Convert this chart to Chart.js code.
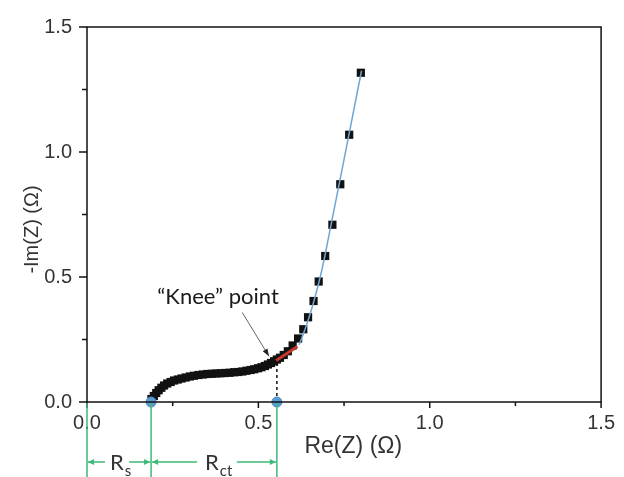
<!DOCTYPE html>
<html>
<head>
<meta charset="utf-8">
<script src="https://cdn.jsdelivr.net/npm/chart.js@4"></script>
<style>
  html, body { margin: 0; padding: 0; background: #ffffff; }
  #wrap { width: 624px; height: 477px; }
</style>
</head>
<body>
<div id="wrap"><canvas id="c" width="624" height="477"></canvas></div>
<script>
// ---- data ----
const zReal = [0.188,0.195,0.202,0.209,0.217,0.225,0.234,0.244,0.254,0.265,0.276,0.288,0.300,0.312,0.325,0.338,0.351,0.364,0.377,0.390,0.403,0.416,0.429,0.441,0.453,0.465,0.477,0.488,0.499,0.509,0.519,0.528,0.537,0.546,0.554,0.563,0.574,0.586,0.600,0.616,0.631,0.645,0.661,0.676,0.695,0.716,0.739,0.765,0.799];
const zImag = [0.012,0.024,0.036,0.047,0.057,0.066,0.074,0.080,0.086,0.090,0.094,0.098,0.102,0.105,0.108,0.110,0.112,0.113,0.114,0.115,0.116,0.117,0.119,0.120,0.122,0.125,0.128,0.131,0.135,0.139,0.144,0.150,0.156,0.163,0.170,0.177,0.188,0.203,0.226,0.254,0.291,0.339,0.404,0.482,0.584,0.709,0.871,1.069,1.317];
const fitReal = [0.619,0.636,0.655,0.676,0.694,0.801];
const fitImag = [0.229,0.290,0.370,0.475,0.584,1.325];
const kneeReal = [0.552,0.614];
const kneeImag = [0.166,0.222];
const markerReal = [0.187,0.554];     // Rs end, Rs+Rct
const markerImag = [0,0];
const kneeArrowReal = [0.453,0.531];
const kneeArrowImag = [0.358,0.183];
const kneeLabelPos = [0.205,0.391];
const tickValues = [0,0.25,0.5,0.75,1.0,1.25,1.5];
const majorTicks = [0,0.5,1.0,1.5];
const xTitle = 'Re(Z) (Ω)';
const yTitle = '-Im(Z) (Ω)';
const kneeText = '\u201CKnee\u201D point';

const pts = (xs, ys) => xs.map((x, i) => ({x: x, y: ys[i]}));

const GREEN = '#3dba78';

const decor = {
  id: 'decor',
  afterDraw(chart) {
    const ctx = chart.ctx;
    const a = chart.chartArea;
    const xs = chart.scales.x, ys = chart.scales.y;
    ctx.save();
    // frame
    ctx.strokeStyle = '#111';
    ctx.lineWidth = 1.5;
    ctx.strokeRect(a.left, a.top, a.right - a.left, a.bottom - a.top);
    // ticks (outward)
    tickValues.forEach(v => {
      const major = majorTicks.includes(v);
      const px = xs.getPixelForValue(v);
      ctx.beginPath();
      ctx.moveTo(px, a.bottom);
      ctx.lineTo(px, a.bottom + (major ? 6 : 4));
      ctx.stroke();
      const py = ys.getPixelForValue(v);
      ctx.beginPath();
      ctx.moveTo(a.left, py);
      ctx.lineTo(a.left - (major ? 8 : 5), py);
      ctx.stroke();
    });
    // axis titles
    ctx.fillStyle = '#333';
    ctx.font = '23px "Liberation Sans", Arial, sans-serif';
    ctx.textAlign = 'center';
    ctx.textBaseline = 'alphabetic';
    ctx.fillText(xTitle, xs.getPixelForValue(0.777), a.bottom + 51);
    ctx.save();
    ctx.translate(38, ys.getPixelForValue(0.69));
    ctx.rotate(-Math.PI / 2);
    ctx.font = '20px "Liberation Sans", Arial, sans-serif';
    ctx.fillText(yTitle, 0, 0);
    ctx.restore();

    // knee label + arrow
    ctx.fillStyle = '#1a1a1a';
    ctx.font = '22px Lato, "Noto Sans", sans-serif';
    ctx.textAlign = 'left';
    ctx.fillText(kneeText, xs.getPixelForValue(kneeLabelPos[0]), ys.getPixelForValue(kneeLabelPos[1]));
    const ax0 = xs.getPixelForValue(kneeArrowReal[0]), ay0 = ys.getPixelForValue(kneeArrowImag[0]);
    const ax1 = xs.getPixelForValue(kneeArrowReal[1]), ay1 = ys.getPixelForValue(kneeArrowImag[1]);
    ctx.strokeStyle = '#666';
    ctx.lineWidth = 1;
    ctx.beginPath(); ctx.moveTo(ax0, ay0); ctx.lineTo(ax1, ay1); ctx.stroke();
    const ang = Math.atan2(ay1 - ay0, ax1 - ax0);
    ctx.fillStyle = '#222';
    ctx.beginPath();
    ctx.moveTo(ax1, ay1);
    ctx.lineTo(ax1 - 8 * Math.cos(ang - 0.35), ay1 - 8 * Math.sin(ang - 0.35));
    ctx.lineTo(ax1 - 8 * Math.cos(ang + 0.35), ay1 - 8 * Math.sin(ang + 0.35));
    ctx.closePath(); ctx.fill();

    // green Rs / Rct markers below the axis
    const gx0 = xs.getPixelForValue(0);
    const gx1 = xs.getPixelForValue(markerReal[0]);
    const gx2 = xs.getPixelForValue(markerReal[1]);
    const H = chart.height;
    ctx.strokeStyle = GREEN;
    ctx.fillStyle = GREEN;
    ctx.lineWidth = 1.5;
    [gx0, gx1, gx2].forEach(gx => {
      ctx.beginPath(); ctx.moveTo(gx, a.bottom + 1); ctx.lineTo(gx, H); ctx.stroke();
    });
    const ay = 462;
    function seg(x0, x1) { ctx.beginPath(); ctx.moveTo(x0, ay); ctx.lineTo(x1, ay); ctx.stroke(); }
    function head(x, dir) {
      ctx.beginPath();
      ctx.moveTo(x, ay);
      ctx.lineTo(x - dir * 6, ay - 3);
      ctx.lineTo(x - dir * 6, ay + 3);
      ctx.closePath(); ctx.fill();
    }
    seg(gx0 + 1, gx0 + 18); head(gx0 + 1, -1);
    seg(gx1 - 22, gx1 - 1); head(gx1 - 1, 1);
    seg(gx1 + 1, gx1 + 46); head(gx1 + 1, -1);
    seg(gx2 - 40, gx2 - 1); head(gx2 - 1, 1);

    ctx.fillStyle = '#333';
    ctx.textAlign = 'left';
    ctx.font = '22px Lato, "Noto Sans", sans-serif';
    ctx.fillText('R', gx0 + 23, ay + 8);
    let w = ctx.measureText('R').width;
    ctx.font = '15px Lato, "Noto Sans", sans-serif';
    ctx.fillText('s', gx0 + 23 + w + 1, ay + 14);
    ctx.font = '22px Lato, "Noto Sans", sans-serif';
    ctx.fillText('R', gx1 + 54, ay + 8);
    w = ctx.measureText('R').width;
    ctx.font = '15px Lato, "Noto Sans", sans-serif';
    ctx.fillText('ct', gx1 + 54 + w + 1, ay + 14);
    ctx.restore();
  }
};

new Chart(document.getElementById('c'), {
  type: 'scatter',
  data: {
    datasets: [
      {
        label: 'Data',
        data: pts(zReal, zImag),
        pointStyle: 'rect',
        pointRadius: 5.8,
        pointBorderWidth: 0,
        backgroundColor: '#111',
        borderColor: '#111',
        showLine: false,
        order: 3
      },
      {
        label: 'Fit',
        data: pts(fitReal, fitImag),
        showLine: true,
        pointRadius: 0,
        borderColor: '#6ea6d6',
        borderWidth: 1.5,
        tension: 0.3,
        order: 2
      },
      {
        label: 'Knee',
        data: pts(kneeReal, kneeImag),
        showLine: true,
        pointRadius: 0,
        borderColor: '#c0392b',
        borderWidth: 3,
        order: 1
      },
      {
        label: 'Rct line',
        data: [{x: markerReal[1], y: 0}, {x: markerReal[1], y: zImag[34] - 0.008}],
        showLine: true,
        pointRadius: 0,
        borderColor: '#111',
        borderWidth: 1.5,
        borderDash: [3, 3],
        order: 1
      },
      {
        label: 'Markers',
        data: pts(markerReal, markerImag),
        showLine: false,
        pointRadius: 5,
        pointBorderWidth: 1,
        backgroundColor: '#5b9bd5',
        borderColor: '#4a89c4',
        clip: false,
        order: 0
      }
    ]
  },
  options: {
    responsive: false,
    devicePixelRatio: 1,
    animation: false,
    layout: { padding: { left: 0, right: 17, top: 17, bottom: 0 } },
    plugins: { legend: { display: false }, tooltip: { enabled: false } },
    scales: {
      x: {
        type: 'linear',
        min: 0, max: 1.5,
        grid: { display: false, drawTicks: false },
        border: { display: false },
        ticks: {
          stepSize: 0.5,
          padding: 9,
          color: '#333',
          font: { family: '"Liberation Sans", Arial, sans-serif', size: 20 },
          callback: v => Number(v).toFixed(1),
          maxRotation: 0
        },
        afterFit: s => { s.height = 75; }
      },
      y: {
        type: 'linear',
        min: 0, max: 1.5,
        grid: { display: false, drawTicks: false },
        border: { display: false },
        ticks: {
          stepSize: 0.5,
          padding: 15,
          color: '#333',
          font: { family: '"Liberation Sans", Arial, sans-serif', size: 20 },
          callback: v => Number(v).toFixed(1)
        },
        afterFit: s => { s.width = 87; }
      }
    }
  },
  plugins: [decor]
});
</script>
</body>
</html>
